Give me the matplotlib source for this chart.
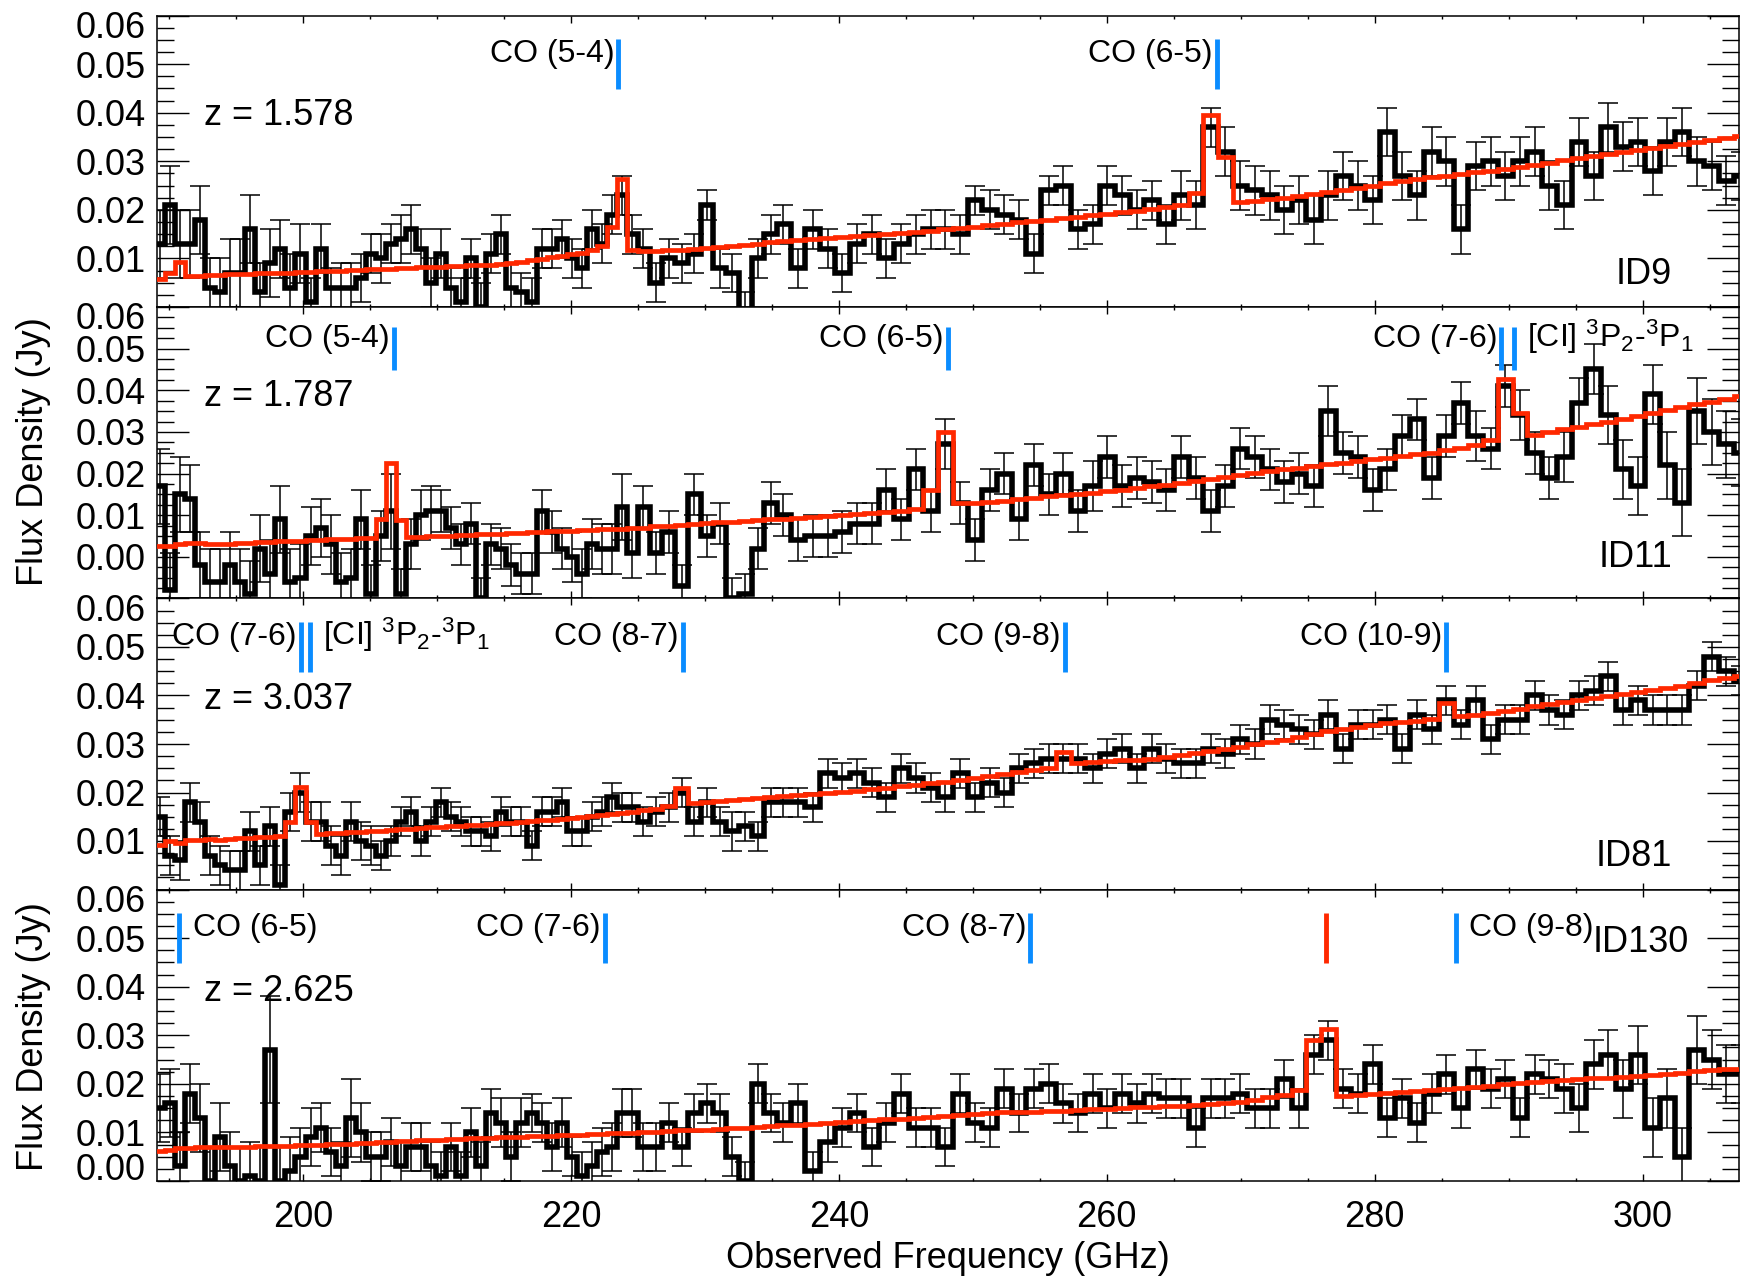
import numpy as np
import matplotlib
matplotlib.use("Agg")
import matplotlib.pyplot as plt
from matplotlib.ticker import MultipleLocator
from matplotlib.transforms import ScaledTranslation

plt.rcParams['font.family'] = ['Liberation Sans', 'DejaVu Sans']
plt.rcParams['mathtext.fontset'] = 'custom'
plt.rcParams['mathtext.rm'] = 'Liberation Sans'
plt.rcParams['mathtext.it'] = 'Liberation Sans:italic'
plt.rcParams['mathtext.bf'] = 'Liberation Sans:bold'

# ---------------- frequency channels (GHz) ----------------
channel_centres = np.round(np.concatenate([
    189.30 + 0.75 * np.arange(48),
    225.40 + 0.95 * np.arange(12),
    236.95 + 1.10 * np.arange(65)]), 2)

# ---------------- spectra (mJy) ----------------
flux_id9 = [13, 21, 13, 13, 18, 4, 3, 7, 7, 16, 3, 9, 12, 4, 11, 1, 12, 4, 4, 4, 6, 11, 10, 13,
            14, 16, 12, 5, 11, 4, 1, 10, 0, 11, 15, 4, 3, 1, 12, 12, 14, 10, 8, 16, 13, 19, 23, 15,
            12, 5, 10, 9, 11, 21, 8, 7, -1, 10, 15, 17,
            8, 16, 12, 7, 13, 15, 10, 13, 15, 16, 16, 15, 22, 20, 19, 18, 11, 24, 25, 16, 17, 25,
            23, 20, 22, 17, 23, 21, 37, 32, 25, 24, 23, 20, 22, 18, 23, 27, 25, 22, 36, 27, 23, 32,
            30, 16, 29, 30, 27, 30, 32, 25, 21, 34, 27, 37, 33, 34, 28, 34, 36, 30, 29, 26, 27]
err_id9 = [7, 8, 7, 7, 7, 6, 7, 7, 7, 7,
           6, 7, 6, 7, 6, 5, 5, 4, 5, 5,
           5, 4, 5, 4, 5, 5, 4, 5, 5, 4,
           5, 4, 5, 4, 4, 5, 4, 5, 4, 4,
           4, 4, 4, 4, 4, 4, 4, 4, 4, 4,
           4, 4, 4, 3, 4, 4, 4, 4, 4, 4,
           4, 4, 4, 4, 4, 4, 4, 4, 4, 4,
           4, 4, 3, 4, 4, 4, 4, 3, 4, 4,
           4, 4, 4, 4, 4, 4, 5, 5, 4, 5,
           5, 5, 5, 5, 5, 5, 5, 5, 5, 5,
           5, 5, 5, 5, 5, 5, 5, 5, 5, 5,
           5, 5, 5, 5, 5, 5, 5, 5, 5, 5,
           5, 5, 5, 5, 5]
model_id9 = [5.7, 7.0, 9.2, 6.4, 6.4, 6.5, 6.6, 6.7, 6.7, 6.8, 6.9, 7.0, 7.0, 7.1, 7.2, 7.3,
             7.4, 7.4, 7.5, 7.6, 7.7, 7.8, 7.8, 7.9, 8.0, 8.1, 8.2, 8.2, 8.3, 8.4, 8.5, 8.6,
             8.6, 8.7, 8.9, 9.1, 9.3, 9.6, 9.9, 10.2, 10.6, 11.0, 11.2, 11.8, 12.6, 16.4, 26.4, 11.7,
             11.6, 11.6, 11.7, 11.8, 11.9, 12.1, 12.3, 12.5, 12.8, 13.0, 13.3, 13.6,
             13.8, 14.0, 14.2, 14.4, 14.6, 14.8, 15.0, 15.2, 15.5, 15.7, 16.0, 16.3, 16.5, 16.8,
             17.1, 17.4, 17.7, 18.0, 18.3, 18.6, 18.9, 19.2, 19.5, 19.8, 20.1, 20.5, 21.0, 23.4,
             39.5, 30.9, 21.6, 21.9, 22.2, 22.5, 22.8, 23.2, 23.6, 24.0, 24.5, 25.0, 25.5, 25.9,
             26.3, 26.7, 27.0, 27.4, 27.8, 28.1, 28.5, 28.9, 29.3, 29.7, 30.2, 30.6, 31.1, 31.5,
             32.0, 32.4, 32.8, 33.2, 33.6, 34.0, 34.4, 34.8, 35.2]

flux_id11 = [17, -8, 15, 14, -2, -6, -6, -2, -6, -9, 2, -4, 9, -6, -5, 5, 7, 3, -6, -5, 9, -9, 5, 11,
             -9, 3, 10, 11, 11, 7, 3, 8, -10, 3, 2, -2, -4, -4, 11, 6, 2, 0, -4, 3, 2, 2, 12, 1,
             12, 1, 6, -7, 15, 5, 8, -10, -9, 2, 13, 10,
             4, 5, 5, 6, 8, 8, 16, 9, 21, 11, 27, 13, 4, 16, 20, 9, 22, 15, 20, 11, 17, 24,
             17, 19, 18, 16, 24, 19, 11, 17, 26, 24, 21, 18, 20, 17, 35, 25, 24, 16, 21, 29, 33, 19,
             29, 37, 29, 26, 41, 34, 25, 19, 24, 37, 45, 34, 21, 17, 39, 22, 13, 35, 30, 27, 25]
err_id11 = [9, 9, 9, 8, 8, 8, 8, 8, 8, 8,
            8, 8, 8, 8, 8, 7, 7, 7, 7, 7,
            7, 7, 6, 9, 6, 6, 6, 6, 5, 5,
            5, 5, 5, 5, 5, 5, 5, 5, 5, 5,
            5, 6, 6, 6, 6, 6, 8, 6, 5, 5,
            5, 5, 5, 5, 5, 5, 5, 5, 5, 5,
            5, 5, 5, 5, 5, 5, 5, 5, 5, 5,
            6, 5, 5, 5, 5, 5, 5, 5, 5, 5,
            6, 5, 5, 5, 5, 5, 5, 5, 5, 5,
            5, 5, 5, 5, 5, 5, 6, 5, 5, 5,
            5, 5, 5, 5, 5, 5, 6, 5, 5, 6,
            5, 5, 6, 6, 6, 7, 7, 7, 7, 8,
            8, 8, 8, 8, 8]
model_id11 = [2.6, 2.6, 3.2, 3.3, 3.3, 3.0, 3.2, 3.2, 3.3, 3.4, 3.5, 3.6, 3.7, 3.8, 3.9, 4.0,
              4.1, 4.2, 4.3, 4.4, 4.5, 4.6, 9.2, 22.5, 8.8, 4.7, 4.8, 4.9, 5.0, 5.1, 5.2, 5.3,
              5.4, 5.5, 5.6, 5.7, 5.8, 5.9, 6.0, 6.1, 6.2, 6.3, 6.4, 6.5, 6.6, 6.7, 6.8, 6.9,
              7.0, 7.3, 7.5, 7.7, 7.9, 8.1, 8.3, 8.4, 8.6, 8.8, 9.0, 9.2,
              9.4, 9.6, 9.8, 10.0, 10.2, 10.5, 10.8, 11.1, 11.6, 16.1, 30.1, 12.9, 13.0, 13.2,
              13.5, 13.8, 14.2, 14.5, 14.8, 15.1, 15.4, 15.8, 16.1, 16.5, 16.9, 17.3, 17.7, 18.1,
              18.6, 19.1, 19.6, 20.1, 20.6, 21.0, 21.4, 21.8, 22.2, 22.6, 23.0, 23.4, 23.8, 24.2,
              24.6, 25.0, 25.6, 26.2, 26.8, 28.0, 42.8, 34.6, 29.3, 30.0, 30.6, 31.2, 31.8, 32.5,
              33.2, 33.9, 34.6, 35.2, 35.9, 36.6, 37.3, 38.0, 38.6]

flux_id81 = [15, 7, 6, 18, 14, 7, 5, 4, 4, 12, 5, 13, 1, 16, 20, 14, 14, 9, 7, 14, 10, 9, 7, 10,
             14, 16, 10, 14, 18, 15, 14, 12, 12, 11, 16, 14, 14, 9, 16, 16, 18, 12, 12, 15, 16, 19, 17, 17,
             14, 16, 17, 20, 14, 18, 14, 12, 13, 11, 18, 18,
             18, 17, 24, 23, 24, 22, 19, 25, 23, 21, 19, 24, 19, 22, 20, 25, 26, 27, 27, 27, 25, 28,
             29, 25, 29, 27, 26, 26, 29, 28, 31, 30, 35, 34, 33, 32, 36, 29, 34, 34, 35, 29, 36, 33,
             39, 34, 39, 31, 35, 35, 40, 37, 36, 40, 41, 44, 37, 39, 37, 37, 37, 42, 48, 45, 43]
err_id81 = [4, 4, 4, 4, 4, 4, 4, 4, 4, 4,
            4, 4, 4, 4, 4, 4, 4, 4, 4, 4,
            4, 4, 3, 3, 3, 3, 3, 3, 3, 3,
            3, 3, 3, 3, 3, 3, 3, 3, 3, 3,
            3, 3, 3, 3, 3, 3, 3, 3, 3, 3,
            3, 3, 3, 3, 3, 4, 3, 3, 3, 3,
            3, 3, 3, 3, 3, 3, 3, 3, 3, 3,
            3, 3, 3, 3, 3, 3, 3, 3, 3, 3,
            3, 3, 3, 3, 3, 3, 3, 3, 3, 3,
            3, 3, 3, 3, 3, 3, 3, 3, 3, 3,
            3, 3, 3, 3, 3, 3, 3, 3, 3, 3,
            3, 3, 3, 3, 3, 3, 3, 3, 3, 3,
            3, 3, 3, 3, 3]
model_id81 = [9.2, 10.0, 9.6, 10.2, 10.3, 10.4, 10.3, 10.5, 10.6, 10.7, 10.8, 10.9, 11.0, 14.0, 21.2, 14.0,
              11.5, 11.6, 11.7, 11.8, 11.9, 12.0, 12.1, 12.3, 12.4, 12.5, 12.6, 12.8, 12.9, 13.0, 13.1, 13.3,
              13.4, 13.5, 13.7, 13.8, 14.0, 14.1, 14.3, 14.4, 14.6, 14.8, 15.0, 15.2, 15.4, 15.6, 15.8, 16.0,
              16.3, 16.6, 17.2, 20.9, 17.8, 18.0, 18.2, 18.4, 18.6, 18.8, 19.0, 19.3,
              19.5, 19.7, 19.9, 20.1, 20.4, 20.7, 21.0, 21.3, 21.6, 21.9, 22.2, 22.6, 23.0, 23.4,
              23.8, 24.2, 24.6, 25.0, 28.3, 26.1, 26.2, 26.4, 26.6, 26.8, 27.0, 27.3, 27.7, 28.1,
              28.5, 28.9, 29.4, 29.9, 30.4, 30.9, 31.4, 32.0, 32.6, 33.1, 33.6, 34.0, 34.3, 34.6,
              34.8, 35.2, 38.5, 35.7, 36.0, 36.4, 36.8, 37.3, 37.8, 38.2, 38.6, 39.0, 39.5, 39.9,
              40.3, 40.7, 41.1, 41.5, 41.9, 42.6, 43.2, 43.6, 44.0]

flux_id130 = [15, 16, 3, 18, 13, 0, 9, 3, 0, 1, 0, 27, 0, 2, 5, 9, 11, 6, 3, 13, 10, 5, 5, 8,
              3, 7, 7, 3, 1, 7, 1, 10, 3, 14, 12, 5, 12, 14, 12, 7, 12, 5, 1, 3, 6, 7, 14, 14,
              7, 7, 12, 7, 14, 16, 14, 5, 0, 20, 14, 12,
              16, 2, 8, 11, 14, 7, 12, 18, 11, 11, 7, 18, 12, 11, 19, 14, 19, 20, 16, 14, 18, 15,
              18, 16, 18, 17, 17, 11, 17, 17, 18, 15, 15, 21, 15, 26, 29, 19, 18, 24, 13, 17, 12, 18,
              22, 15, 23, 19, 21, 13, 22, 21, 19, 15, 24, 26, 19, 26, 11, 17, 5, 27, 25, 22, 22]
err_id130 = [7, 7, 7, 6, 7, 7, 7, 7, 7, 7,
             7, 11, 7, 7, 6, 6, 5, 5, 5, 8,
             6, 5, 5, 5, 5, 5, 5, 5, 5, 5,
             5, 5, 5, 5, 5, 5, 5, 4, 4, 5,
             5, 4, 5, 5, 5, 5, 5, 5, 5, 5,
             4, 4, 4, 4, 4, 4, 4, 4, 4, 4,
             4, 4, 4, 4, 4, 4, 4, 4, 4, 4,
             4, 4, 4, 4, 4, 4, 4, 4, 4, 4,
             4, 4, 4, 4, 4, 4, 4, 4, 4, 4,
             4, 4, 4, 4, 4, 4, 4, 4, 4, 4,
             4, 4, 4, 4, 4, 4, 4, 4, 4, 4,
             4, 4, 5, 5, 5, 5, 6, 6, 6, 6,
             6, 7, 6, 6, 6]
model_id130 = [6.1, 6.4, 6.8, 6.8, 6.9, 6.9, 7.0, 7.0, 7.1, 7.1, 7.2, 7.2, 7.3, 7.3, 7.4, 7.5,
               7.5, 7.6, 7.6, 7.7, 7.8, 7.9, 8.0, 8.1, 8.2, 8.3, 8.4, 8.5, 8.5, 8.6, 8.7, 8.8,
               8.8, 8.9, 9.0, 9.0, 9.1, 9.2, 9.2, 9.3, 9.4, 9.5, 9.5, 9.6, 9.7, 9.8, 9.8, 9.9,
               10.0, 10.1, 10.2, 10.4, 10.5, 10.6, 10.8, 10.9, 11.0, 11.2, 11.3, 11.5,
               11.6, 11.8, 12.0, 12.1, 12.3, 12.5, 12.7, 12.8, 13.0, 13.2, 13.4, 13.6, 13.8, 14.0,
               14.1, 14.2, 14.3, 14.4, 14.5, 14.6, 14.8, 14.9, 15.0, 15.2, 15.3, 15.4, 15.5, 15.7,
               15.9, 16.1, 16.3, 16.7, 17.2, 17.8, 18.8, 29.0, 31.2, 17.4, 17.6, 17.9, 18.1, 18.3,
               18.5, 18.7, 18.9, 19.1, 19.3, 19.6, 19.9, 20.1, 20.3, 20.5, 20.7, 20.9, 21.1, 21.3,
               21.5, 21.7, 21.9, 22.1, 22.3, 22.6, 22.8, 23.0, 23.1]

# ---------------- line identifications ----------------
rest_freq = {'CO (5-4)': 576.268, 'CO (6-5)': 691.473, 'CO (7-6)': 806.652,
             'CO (8-7)': 921.800, 'CO (9-8)': 1036.912, 'CO (10-9)': 1151.985,
             '[CI]': 809.342}
ci_label = r'[CI] $^{3}$P$_{2}$-$^{3}$P$_{1}$'

sources = ['ID9', 'ID11', 'ID81', 'ID130']
redshifts = [1.578, 1.787, 3.037, 2.625]
fluxes = [flux_id9, flux_id11, flux_id81, flux_id130]
errors = [err_id9, err_id11, err_id81, err_id130]
models = [model_id9, model_id11, model_id81, model_id130]
# (line, side of the label relative to the marker)
line_lists = [
    [('CO (5-4)', 'L'), ('CO (6-5)', 'L')],
    [('CO (5-4)', 'L'), ('CO (6-5)', 'L'), ('CO (7-6)', 'L'), ('[CI]', 'R')],
    [('CO (7-6)', 'L'), ('[CI]', 'R'), ('CO (8-7)', 'L'), ('CO (9-8)', 'L'), ('CO (10-9)', 'L')],
    [('CO (6-5)', 'R'), ('CO (7-6)', 'L'), ('CO (8-7)', 'L'), ('CO (9-8)', 'R')],
]
unidentified_line_id130 = 276.35

ylims = [(0.0, 0.06), (-0.01, 0.06), (0.0, 0.06), (0.0, 0.06)]
ytick_vals = [[0.01, 0.02, 0.03, 0.04, 0.05, 0.06],
              [0.0, 0.01, 0.02, 0.03, 0.04, 0.05, 0.06],
              [0.01, 0.02, 0.03, 0.04, 0.05, 0.06],
              [0.0, 0.01, 0.02, 0.03, 0.04, 0.05, 0.06]]
xtick_vals = [200, 220, 240, 260, 280, 300]

for name, arr in zip(['f9', 'f11', 'f81', 'f130', 'e9', 'e11', 'e81', 'e130',
                      'm9', 'm11', 'm81', 'm130'], fluxes + errors + models):
    assert len(arr) == len(channel_centres), (name, len(arr))

# ---------------- figure ----------------
W, H = 1741, 1278
fig = plt.figure(figsize=(W / 100, H / 100), dpi=100)
RED = '#ff2800'
BLUE = '#0a8cff'
left_px, right_px = 156.5, 1739.0
edges_px = [15.6, 307.0, 598.5, 889.5, 1181.0]

freq = channel_centres
bin_edges = np.concatenate([[freq[0] - (freq[1] - freq[0]) / 2],
                            (freq[:-1] + freq[1:]) / 2,
                            [freq[-1] + (freq[-1] - freq[-2]) / 2]])

id_pos = [(302.2, 0.0047, 'right'), (302.2, -0.0024, 'right'),
          (302.2, 0.0048, 'right'), (296.3, 0.0471, 'left')]
z_base = [0.0374, 0.0362, 0.0372, 0.0370]

for i in range(4):
    top, bot = edges_px[i], edges_px[i + 1]
    ax = fig.add_axes([left_px / W, 1 - bot / H, (right_px - left_px) / W, (bot - top) / H])
    ax.set_xlim(189.05, 307.2)
    ax.set_ylim(*ylims[i])

    f = np.array(fluxes[i]) * 1e-3
    e = np.array(errors[i]) * 1e-3
    m = np.array(models[i]) * 1e-3
    ax.errorbar(freq, f, yerr=e, fmt='none', ecolor='k', elinewidth=1.1,
                capsize=7, capthick=1.1, zorder=2)
    ax.stairs(f, bin_edges, color='k', lw=4.0, baseline=None, zorder=2.5)
    ax.stairs(m, bin_edges, color=RED, lw=3.4, baseline=None, zorder=3)

    z = redshifts[i]
    for name, side in line_lists[i]:
        nu = rest_freq[name] / (1 + z)
        ax.vlines(nu, 0.0448, 0.0552, color=BLUE, lw=3.5, zorder=4)
        label = ci_label if name == '[CI]' else name
        if side == 'L':
            ax.text(nu - 0.3, 0.0505, label, ha='right', va='baseline', fontsize=23)
        else:
            ax.text(nu + 1.0, 0.0505, label, ha='left', va='baseline', fontsize=23)
    if sources[i] == 'ID130':
        ax.vlines(unidentified_line_id130, 0.0448, 0.0552, color=RED, lw=3.5, zorder=4)

    ax.text(192.6, z_base[i], 'z = %.3f' % z, ha='left', va='baseline', fontsize=26)
    ix, iy, iha = id_pos[i]
    ax.text(ix, iy, sources[i], ha=iha, va='baseline', fontsize=26)

    # ticks
    ax.set_xticks(xtick_vals)
    ax.xaxis.set_minor_locator(MultipleLocator(5))
    ax.set_yticks(ytick_vals[i])
    ax.set_yticklabels(['%.2f' % v for v in ytick_vals[i]])
    ax.yaxis.set_minor_locator(MultipleLocator(0.0025))
    ax.tick_params(which='both', direction='in', top=True, right=True, width=1.0)
    ax.tick_params(axis='y', which='major', length=23, labelsize=26, pad=8)
    ax.tick_params(axis='y', which='minor', length=12)
    ax.tick_params(axis='x', which='major', length=5, labelsize=26, pad=14)
    ax.tick_params(axis='x', which='minor', length=2.5)
    if i < 3:
        ax.tick_params(axis='x', labelbottom=False)
    for sp in ax.spines.values():
        sp.set_linewidth(1.1)

    # shift extreme labels inward like the original
    labels = ax.get_yticklabels()
    down = ScaledTranslation(0, -9 / 100, fig.dpi_scale_trans)
    labels[-1].set_transform(labels[-1].get_transform() + down)
    if i == 3:
        up = ScaledTranslation(0, 14 / 100, fig.dpi_scale_trans)
        labels[0].set_transform(labels[0].get_transform() + up)

fig.text(33.5 / W, 1 - 452 / H, 'Flux Density (Jy)', rotation=90, ha='center', va='center', fontsize=26)
fig.text(33.5 / W, 1 - 1036.5 / H, 'Flux Density (Jy)', rotation=90, ha='center', va='center', fontsize=26)
fig.text((left_px + right_px) / 2 / W, 1 - 1268 / H, 'Observed Frequency (GHz)',
         ha='center', va='baseline', fontsize=26)

fig.savefig('out.png', dpi=100)
